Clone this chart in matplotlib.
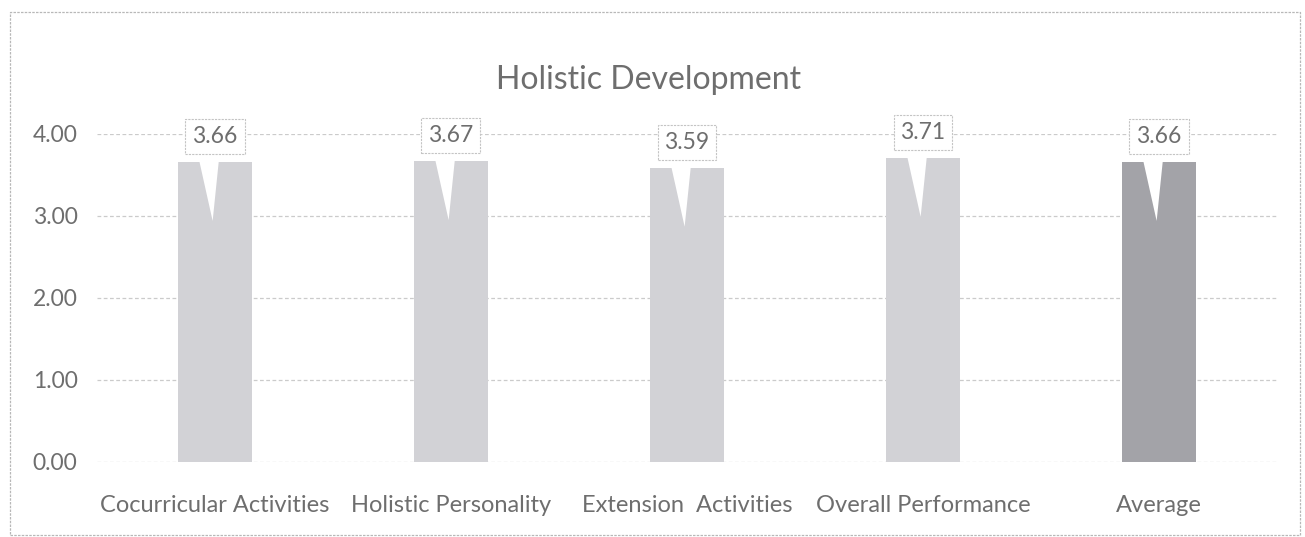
import matplotlib.pyplot as plt
from matplotlib.patches import Rectangle, Polygon

categories = ['Cocurricular Activities', 'Holistic Personality',
              'Extension  Activities', 'Overall Performance', 'Average']
scores = [3.66, 3.67, 3.59, 3.71, 3.66]
label_text = ['3.66', '3.67', '3.59', '3.71', '3.66']
y_ticks = [0, 1, 2, 3, 4]


def main():
    plt.rcParams['font.family'] = ['Lato', 'DejaVu Sans']
    fig = plt.figure(figsize=(13.05, 5.37), dpi=100)
    ax = fig.add_axes([97 / 1305, 1 - 462 / 537, 1180 / 1305, 328 / 537])

    colors = ['#d2d2d6'] * (len(scores) - 1) + ['#a3a3a8']
    x = list(range(len(categories)))
    ax.bar(x, scores, width=0.31, color=colors, zorder=2)

    # callout labels: a white tail from the box down into the bar
    for xi, v, t in zip(x, scores, label_text):
        tail = Polygon([(xi - 0.075, v + 0.12), (xi + 0.02, v + 0.12),
                        (xi - 0.01, v - 0.72)],
                       closed=True, fc='white', ec='none', zorder=3)
        ax.add_patch(tail)
        ax.text(xi, v + 0.31, t, ha='center', va='center', fontsize=16.5,
                color='#6e6e6e', zorder=4,
                bbox=dict(boxstyle='square,pad=0.3', fc='white',
                          ec='#c4c4c4', lw=0.8, ls=(0, (2, 1))))

    ax.set_xlim(-0.5, len(categories) - 0.5)
    ax.set_ylim(0, 4.0)
    ax.set_yticks(y_ticks)
    ax.set_yticklabels([f'{v:.2f}' for v in y_ticks])
    ax.set_xticks(x)
    ax.set_xticklabels(categories)
    ax.tick_params(axis='both', length=0, colors='#6e6e6e')
    ax.tick_params(axis='x', pad=24, labelsize=17)
    ax.tick_params(axis='y', pad=14, labelsize=16.5)
    ax.grid(axis='y', color='#cbcbcb', ls=(0, (3, 2)), lw=0.9, zorder=0)
    for s in ax.spines.values():
        s.set_visible(False)

    fig.text(0.497, 1 - 80 / 537, 'Holistic Development', ha='center',
             va='center', fontsize=23, color='#6e6e6e')

    border = Rectangle((10 / 1305, 2 / 537), 1290 / 1305, 523 / 537,
                       transform=fig.transFigure, fill=False, ec='#b8b8b8',
                       lw=0.9, ls=(0, (2, 1)))
    fig.patches.append(border)

    fig.savefig('out.png', dpi=100)


if __name__ == '__main__':
    main()
